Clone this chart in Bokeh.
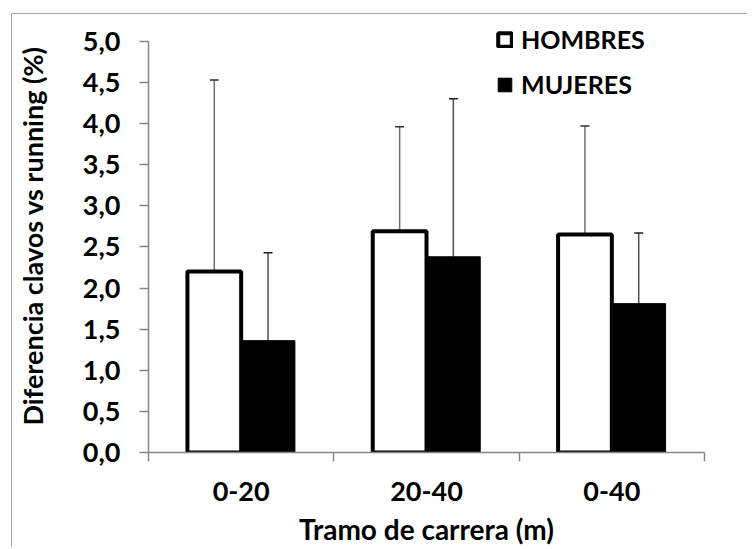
from bokeh.plotting import figure
from bokeh.models import ColumnDataSource, FixedTicker, Whisker, TeeHead, Legend, LegendItem
from bokeh.embed import file_html
from bokeh.resources import INLINE

categories = ["0-20", "20-40", "0-40"]
hombres = [2.20, 2.69, 2.65]
hombres_sd = [2.33, 1.27, 1.32]
mujeres = [1.36, 2.38, 1.81]
mujeres_sd = [1.07, 1.92, 0.86]
y_ticks = [0.0, 0.5, 1.0, 1.5, 2.0, 2.5, 3.0, 3.5, 4.0, 4.5, 5.0]
y_axis_max = 5.0

FONT = "Lato"
BAR_W = 0.29
OFF = 0.145

xc = [i + 0.5 for i in range(len(categories))]
src_h = ColumnDataSource(dict(
    x=[c - OFF for c in xc], top=hombres,
    upper=[m + s for m, s in zip(hombres, hombres_sd)]))
src_m = ColumnDataSource(dict(
    x=[c + OFF for c in xc], top=mujeres,
    upper=[m + s for m, s in zip(mujeres, mujeres_sd)]))

# frame extends a bit above 5.0 so the legend is not clipped; axis line bounded to 0-5
p = figure(width=736, height=534, output_backend="svg", toolbar_location=None,
           x_range=(0, len(categories)), y_range=(0, y_axis_max * 437 / 415),
           min_border_left=132, min_border_right=44, min_border_top=5, min_border_bottom=92)
p.styles = {"border-top": "1px solid #a6a6a6", "border-left": "1px solid #a6a6a6",
            "margin-left": "11px", "margin-top": "13px"}
p.outline_line_color = None
p.xgrid.visible = False
p.ygrid.visible = False
p.background_fill_color = "white"
p.border_fill_color = "white"

wh = Whisker(base="x", upper="upper", lower="top", source=src_h,
             line_color="#707070", line_width=1.5,
             upper_head=TeeHead(size=9, line_color="#303030", line_width=1.5), lower_head=None)
wm = Whisker(base="x", upper="upper", lower="top", source=src_m,
             line_color="#505050", line_width=1.5,
             upper_head=TeeHead(size=9, line_color="#202020", line_width=1.5), lower_head=None)
p.add_layout(wh)
p.add_layout(wm)

rm = p.vbar(x="x", top="top", width=BAR_W, source=src_m, fill_color="black",
            line_color="black", line_width=1)
rh = p.vbar(x="x", top="top", width=BAR_W, source=src_h, fill_color="white",
            line_color="black", line_width=4)

# x axis: labels at centres, ticks at category boundaries (minor)
p.xaxis.ticker = FixedTicker(ticks=xc, minor_ticks=list(range(len(categories) + 1)))
p.xaxis.major_label_overrides = {c: lab for c, lab in zip(xc, categories)}
p.xaxis.major_tick_out = 0
p.xaxis.major_tick_in = 0
p.xaxis.minor_tick_out = 9
p.xaxis.minor_tick_in = 0
p.xaxis.minor_tick_line_color = "#868686"
p.xaxis.minor_tick_line_width = 1.5
p.xaxis.axis_label = "Tramo de carrera (m)"

p.yaxis.ticker = FixedTicker(ticks=y_ticks, minor_ticks=[])
p.yaxis.major_label_overrides = {v: f"{v:.1f}".replace(".", ",") for v in y_ticks}
p.yaxis.major_tick_out = 9
p.yaxis.major_tick_in = 0
p.yaxis.bounds = (0, y_axis_max)
p.yaxis.axis_label = "Diferencia clavos vs running (%)"

for ax in (p.xaxis[0], p.yaxis[0]):
    ax.axis_line_color = "#868686"
    ax.axis_line_width = 1.5
    ax.major_tick_line_color = "#868686"
    ax.major_tick_line_width = 1.5
    ax.major_label_text_font = FONT
    ax.major_label_text_font_style = "bold"
    ax.major_label_text_font_size = "27px"
    ax.major_label_text_color = "black"
    ax.axis_label_text_font = FONT
    ax.axis_label_text_font_style = "bold"
    ax.axis_label_text_font_size = "27px"
    ax.axis_label_text_color = "black"

p.xaxis.axis_label_text_font_size = "28px"
p.yaxis.major_label_standoff = 19
p.yaxis.axis_label_standoff = 31
p.xaxis.major_label_standoff = 20
p.xaxis.axis_label_standoff = 8

legend = Legend(items=[LegendItem(label="HOMBRES", renderers=[rh]),
                       LegendItem(label="MUJERES", renderers=[rm])],
                location=(348, 353), orientation="vertical",
                label_text_font=FONT, label_text_font_style="bold",
                label_text_font_size="25px", label_text_color="black",
                glyph_width=17, glyph_height=17, label_height=30,
                spacing=15, padding=0, margin=0, label_standoff=8,
                border_line_color=None, background_fill_alpha=0)
p.add_layout(legend)

open("out.html", "w").write(file_html(p, INLINE))
